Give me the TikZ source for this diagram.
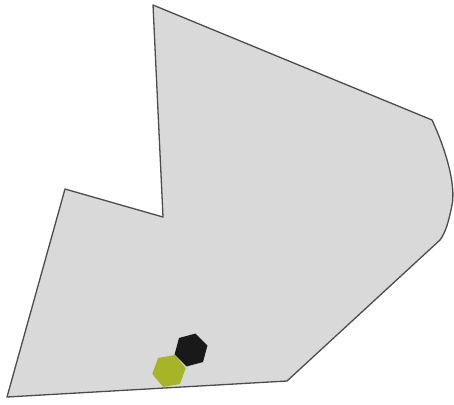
\documentclass[tikz,border=0pt]{standalone}
\usetikzlibrary{shapes.geometric}
\begin{document}
\begin{tikzpicture}[x=1pt,y=-1pt,
  region/.style={fill=gray!30, draw=black!70, line width=1.3pt, line join=round},
  hexblack/.style={regular polygon, regular polygon sides=6, minimum size=34pt, inner sep=0pt, fill=black!90, rotate=15},
  hexgreen/.style={regular polygon, regular polygon sides=6, minimum size=34pt, inner sep=0pt, fill={rgb,255:red,166;green,181;blue,40}, rotate=10}]
\useasboundingbox (0,0) rectangle (454,404);
\draw[region] (153,5) -- (432,120) .. controls (446,150) and (456,185) .. (452,205) .. controls (449,220) and (446,232) .. (440,240) -- (287,381) -- (7,397) -- (65,189) -- (163,217) -- cycle;
\node[hexblack] (hb) at (191,350) {};
\node[hexgreen] (hg) at (169,371) {};
\end{tikzpicture}
\end{document}
